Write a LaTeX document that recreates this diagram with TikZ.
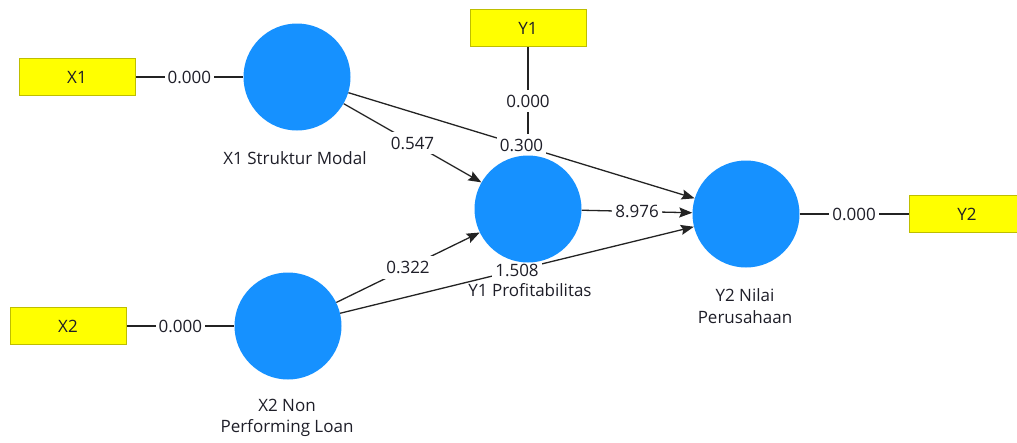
\documentclass[tikz,border=0pt]{standalone}
\usepackage{fontspec}
\setmainfont{Open Sans}
\usetikzlibrary{arrows.meta,backgrounds}
\definecolor{lvblue}{RGB}{22,145,255}
\definecolor{mvyellow}{RGB}{255,255,0}
\definecolor{mvborder}{RGB}{190,190,0}
\definecolor{edgecol}{RGB}{35,35,35}
\definecolor{txtcol}{RGB}{30,30,40}
\begin{document}
\begin{tikzpicture}[x=1pt,y=-1pt,
 lv/.style={circle, fill=lvblue, minimum size=107pt, inner sep=0pt},
 mv/.style={rectangle, fill=mvyellow, draw=mvborder, line width=1pt, minimum width=116pt, minimum height=37pt, inner sep=0pt, font=\fontsize{17}{20}\selectfont, text=txtcol},
 lvname/.style={font=\fontsize{17}{21.5}\selectfont, align=center, text=txtcol},
 coef/.style={fill=white, font=\fontsize{17}{20}\selectfont, inner xsep=3pt, inner ysep=5pt, text=txtcol},
 link/.style={draw=edgecol, line width=1.3pt},
 arrowlink/.style={link, -{Stealth[length=13pt,width=10pt,inset=2pt]}}
]
\useasboundingbox (0,0) rectangle (1017,442);
% latent variables
\node[lv] (X1c) at (297,77) {};
\node[lv] (Y1c) at (528,209) {};
\node[lv] (Y2c) at (746,214) {};
\node[lv] (X2c) at (288,326) {};
% indicators
\node[mv] (X1b) at (77,77) {X1};
\node[mv] (Y1b) at (528,28) {Y1};
\node[mv] (Y2b) at (967,214) {Y2};
\node[mv] (X2b) at (68,326) {X2};
% names
\node[lvname] (X1n) at (295,158) {X1 Struktur Modal};
\node[lvname] (Y1n) at (530,290) {Y1 Profitabilitas};
\node[lvname] (Y2n) at (745,306) {Y2 Nilai\\Perusahaan};
\node[lvname] (X2n) at (287,418) {X2 Non\\Performing Loan};
% connectors
\begin{scope}[on background layer]
\draw[link] (X1b) -- node[coef] {0.000} (X1c);
\draw[link] (X2b) -- node[coef] {0.000} (X2c);
\draw[link] (Y2c) -- node[coef] {0.000} (Y2b);
\draw[link] (Y1b) -- node[coef] {0.000} (Y1c);
\draw[arrowlink] (X1c) -- node[coef] {0.547} (Y1c);
\draw[arrowlink] (X2c) -- node[coef] {0.322} (Y1c);
\draw[arrowlink] (X1c) -- node[coef] {0.300} (Y2c);
\draw[arrowlink] (X2c) -- node[coef] {1.508} (Y2c);
\draw[arrowlink] (Y1c) -- node[coef] {8.976} (Y2c);
\end{scope}
\end{tikzpicture}
\end{document}
